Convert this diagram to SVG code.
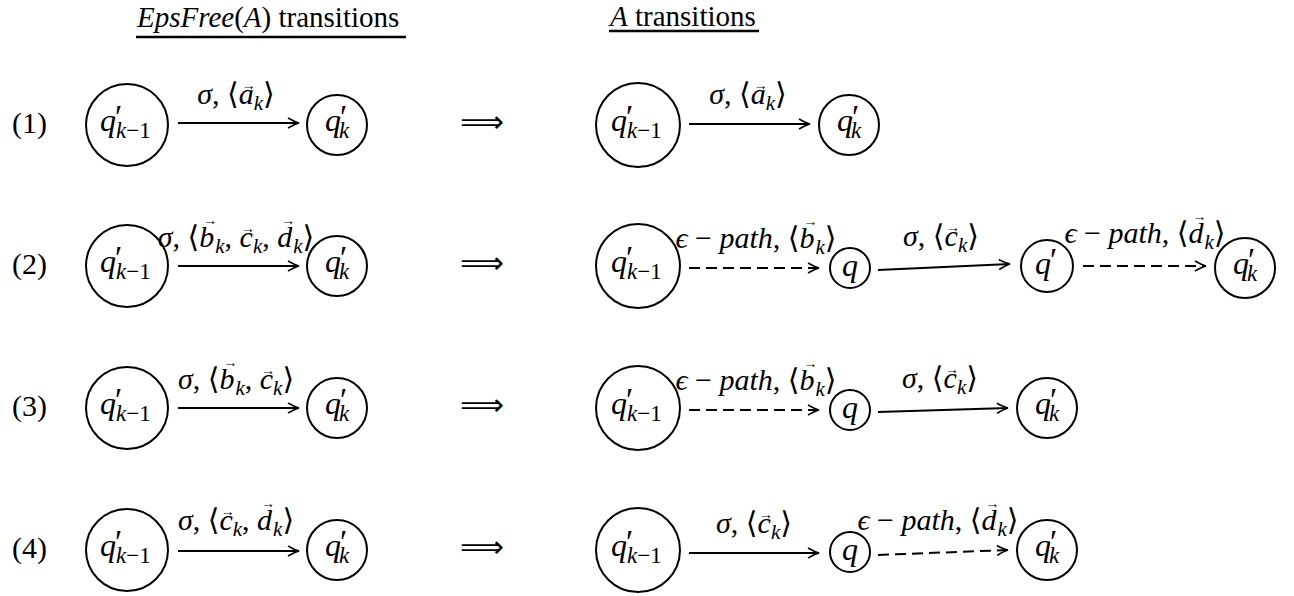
<svg xmlns="http://www.w3.org/2000/svg" width="1294" height="596" viewBox="0 0 1294 596">
<style>
text{font-family:"Liberation Serif","DejaVu Serif",serif;fill:#000}
.hd{font-size:29px}
.m{font-size:30px;font-style:italic}
.q{font-size:32px;font-style:italic}
.n{font-size:30px}
.up{font-style:normal}
.it{font-style:italic}
.sub{font-size:21px}
.qs{font-size:23px}
.pr{font-size:33px;font-style:normal}
.vec{font-size:14px;font-style:normal}
.arr{font-family:"DejaVu Sans",sans-serif;font-size:30px}
.node circle{fill:none;stroke:#000;stroke-width:2}
.edge{fill:none;stroke:#000;stroke-width:2;marker-end:url(#ah)}
.dash{stroke-dasharray:11 6}
.ul{stroke:#000;stroke-width:2.5}
</style>
<defs>
<marker id="ah" viewBox="-12 -6 14 12" refX="0" refY="0" markerWidth="14" markerHeight="12" markerUnits="userSpaceOnUse" orient="auto">
<path d="M-11,-5 Q-4,-1 0,0 Q-4,1 -11,5" fill="none" stroke="#000" stroke-width="1.7"/>
</marker>
</defs>
<rect width="1294" height="596" fill="#fff"/>

<!-- column headings -->
<g id="headings">
<text class="hd" x="137" y="27"><tspan class="it">EpsFree</tspan>(<tspan class="it">A</tspan>) transitions</text>
<line class="ul" x1="136" y1="37" x2="406" y2="37"/>
<text class="hd" x="610" y="26"><tspan class="it">A</tspan> transitions</text>
<line class="ul" x1="609" y1="31" x2="759" y2="31"/>
</g>

<!-- row numbers and implication arrows -->
<g id="rownums">
<text class="n" x="12" y="133">(1)</text>
<text class="n" x="12" y="274">(2)</text>
<text class="n" x="12" y="416">(3)</text>
<text class="n" x="12" y="558">(4)</text>
<text class="arr" x="460" y="132" textLength="44" lengthAdjust="spacingAndGlyphs">⟹</text>
<text class="arr" x="460" y="273" textLength="44" lengthAdjust="spacingAndGlyphs">⟹</text>
<text class="arr" x="460" y="415" textLength="44" lengthAdjust="spacingAndGlyphs">⟹</text>
<text class="arr" x="460" y="557" textLength="44" lengthAdjust="spacingAndGlyphs">⟹</text>
</g>

<!-- row 1 -->
<g id="L1-src" class="node"><circle cx="127" cy="125" r="41"/>
<text class="q"><tspan x="100" y="131">q</tspan><tspan class="pr" x="115" y="128">′</tspan><tspan class="qs" x="116" y="138">k<tspan class="up">−1</tspan></tspan></text></g>
<g id="L1-dst" class="node"><circle cx="337" cy="125" r="30"/>
<text class="q"><tspan x="325" y="131">q</tspan><tspan class="pr" x="340" y="128">′</tspan><tspan class="qs" x="339" y="138">k</tspan></text></g>
<g id="R1-src" class="node"><circle cx="638" cy="125" r="42"/>
<text class="q"><tspan x="611" y="131">q</tspan><tspan class="pr" x="626" y="128">′</tspan><tspan class="qs" x="627" y="138">k<tspan class="up">−1</tspan></tspan></text></g>
<g id="R1-dst" class="node"><circle cx="849" cy="125" r="30"/>
<text class="q"><tspan x="837" y="131">q</tspan><tspan class="pr" x="852" y="128">′</tspan><tspan class="qs" x="851" y="138">k</tspan></text></g>

<!-- row 2 -->
<g id="L2-src" class="node"><circle cx="127" cy="266" r="41"/>
<text class="q"><tspan x="100" y="272">q</tspan><tspan class="pr" x="115" y="269">′</tspan><tspan class="qs" x="116" y="279">k<tspan class="up">−1</tspan></tspan></text></g>
<g id="L2-dst" class="node"><circle cx="337" cy="266" r="30"/>
<text class="q"><tspan x="325" y="272">q</tspan><tspan class="pr" x="340" y="269">′</tspan><tspan class="qs" x="339" y="279">k</tspan></text></g>
<g id="R2-src" class="node"><circle cx="638" cy="266" r="42"/>
<text class="q"><tspan x="611" y="272">q</tspan><tspan class="pr" x="626" y="269">′</tspan><tspan class="qs" x="627" y="279">k<tspan class="up">−1</tspan></tspan></text></g>
<g id="R2-q" class="node"><circle cx="850" cy="268" r="20"/>
<text class="q" x="850" y="276" text-anchor="middle">q</text></g>
<g id="R2-qp" class="node"><circle cx="1047" cy="266" r="26"/>
<text class="q"><tspan x="1035" y="274">q</tspan><tspan class="pr" x="1050" y="271">′</tspan></text></g>
<g id="R2-dst" class="node"><circle cx="1245" cy="268" r="30"/>
<text class="q"><tspan x="1233" y="274">q</tspan><tspan class="pr" x="1248" y="271">′</tspan><tspan class="qs" x="1247" y="281">k</tspan></text></g>

<!-- row 3 -->
<g id="L3-src" class="node"><circle cx="127" cy="408" r="41"/>
<text class="q"><tspan x="100" y="414">q</tspan><tspan class="pr" x="115" y="411">′</tspan><tspan class="qs" x="116" y="421">k<tspan class="up">−1</tspan></tspan></text></g>
<g id="L3-dst" class="node"><circle cx="337" cy="408" r="30"/>
<text class="q"><tspan x="325" y="414">q</tspan><tspan class="pr" x="340" y="411">′</tspan><tspan class="qs" x="339" y="421">k</tspan></text></g>
<g id="R3-src" class="node"><circle cx="638" cy="408" r="42"/>
<text class="q"><tspan x="611" y="414">q</tspan><tspan class="pr" x="626" y="411">′</tspan><tspan class="qs" x="627" y="421">k<tspan class="up">−1</tspan></tspan></text></g>
<g id="R3-q" class="node"><circle cx="850" cy="410" r="20"/>
<text class="q" x="850" y="418" text-anchor="middle">q</text></g>
<g id="R3-dst" class="node"><circle cx="1047" cy="408" r="30"/>
<text class="q"><tspan x="1035" y="414">q</tspan><tspan class="pr" x="1050" y="411">′</tspan><tspan class="qs" x="1049" y="421">k</tspan></text></g>

<!-- row 4 -->
<g id="L4-src" class="node"><circle cx="127" cy="550" r="41"/>
<text class="q"><tspan x="100" y="556">q</tspan><tspan class="pr" x="115" y="553">′</tspan><tspan class="qs" x="116" y="563">k<tspan class="up">−1</tspan></tspan></text></g>
<g id="L4-dst" class="node"><circle cx="337" cy="550" r="30"/>
<text class="q"><tspan x="325" y="556">q</tspan><tspan class="pr" x="340" y="553">′</tspan><tspan class="qs" x="339" y="563">k</tspan></text></g>
<g id="R4-src" class="node"><circle cx="638" cy="550" r="42"/>
<text class="q"><tspan x="611" y="556">q</tspan><tspan class="pr" x="626" y="553">′</tspan><tspan class="qs" x="627" y="563">k<tspan class="up">−1</tspan></tspan></text></g>
<g id="R4-q" class="node"><circle cx="850" cy="552" r="20"/>
<text class="q" x="850" y="560" text-anchor="middle">q</text></g>
<g id="R4-dst" class="node"><circle cx="1047" cy="550" r="30"/>
<text class="q"><tspan x="1035" y="556">q</tspan><tspan class="pr" x="1050" y="553">′</tspan><tspan class="qs" x="1049" y="563">k</tspan></text></g>

<!-- transitions and their labels -->
<g id="connectors">
<line class="edge" x1="178" y1="123" x2="299" y2="123"/>
<text class="m" x="236" y="104" text-anchor="middle">σ<tspan class="up">, ⟨</tspan>a<tspan class="vec" dx="-12" dy="-14">→</tspan><tspan class="sub" dx="-2" dy="20">k</tspan><tspan class="up" dy="-6">⟩</tspan></text>
<line class="edge" x1="689" y1="124" x2="810" y2="124"/>
<text class="m" x="748" y="104" text-anchor="middle">σ<tspan class="up">, ⟨</tspan>a<tspan class="vec" dx="-12" dy="-14">→</tspan><tspan class="sub" dx="-2" dy="20">k</tspan><tspan class="up" dy="-6">⟩</tspan></text>

<line class="edge" x1="178" y1="266" x2="299" y2="266"/>
<text class="m" x="236" y="247" text-anchor="middle">σ<tspan class="up">, ⟨</tspan>b<tspan class="vec" dx="-11" dy="-22">→</tspan><tspan class="sub" dx="-2" dy="28">k</tspan><tspan class="up" dy="-6">, </tspan>c<tspan class="vec" dx="-12" dy="-14">→</tspan><tspan class="sub" dx="-2" dy="20">k</tspan><tspan class="up" dy="-6">, </tspan>d<tspan class="vec" dx="-11" dy="-22">→</tspan><tspan class="sub" dx="-2" dy="28">k</tspan><tspan class="up" dy="-6">⟩</tspan></text>
<line class="edge dash" x1="689" y1="268" x2="819" y2="268"/>
<text class="m" x="756" y="248" text-anchor="middle">ϵ<tspan class="up"> − </tspan>path<tspan class="up">, ⟨</tspan>b<tspan class="vec" dx="-11" dy="-22">→</tspan><tspan class="sub" dx="-2" dy="28">k</tspan><tspan class="up" dy="-6">⟩</tspan></text>
<line class="edge" x1="878" y1="270" x2="1010" y2="264"/>
<text class="m" x="941" y="246" text-anchor="middle">σ<tspan class="up">, ⟨</tspan>c<tspan class="vec" dx="-12" dy="-14">→</tspan><tspan class="sub" dx="-2" dy="20">k</tspan><tspan class="up" dy="-6">⟩</tspan></text>
<line class="edge dash" x1="1083" y1="266" x2="1206" y2="266"/>
<text class="m" x="1145" y="243" text-anchor="middle">ϵ<tspan class="up"> − </tspan>path<tspan class="up">, ⟨</tspan>d<tspan class="vec" dx="-11" dy="-22">→</tspan><tspan class="sub" dx="-2" dy="28">k</tspan><tspan class="up" dy="-6">⟩</tspan></text>

<line class="edge" x1="178" y1="408" x2="299" y2="408"/>
<text class="m" x="236" y="389" text-anchor="middle">σ<tspan class="up">, ⟨</tspan>b<tspan class="vec" dx="-11" dy="-22">→</tspan><tspan class="sub" dx="-2" dy="28">k</tspan><tspan class="up" dy="-6">, </tspan>c<tspan class="vec" dx="-12" dy="-14">→</tspan><tspan class="sub" dx="-2" dy="20">k</tspan><tspan class="up" dy="-6">⟩</tspan></text>
<line class="edge dash" x1="689" y1="410" x2="819" y2="410"/>
<text class="m" x="756" y="390" text-anchor="middle">ϵ<tspan class="up"> − </tspan>path<tspan class="up">, ⟨</tspan>b<tspan class="vec" dx="-11" dy="-22">→</tspan><tspan class="sub" dx="-2" dy="28">k</tspan><tspan class="up" dy="-6">⟩</tspan></text>
<line class="edge" x1="878" y1="412" x2="1008" y2="408"/>
<text class="m" x="940" y="388" text-anchor="middle">σ<tspan class="up">, ⟨</tspan>c<tspan class="vec" dx="-12" dy="-14">→</tspan><tspan class="sub" dx="-2" dy="20">k</tspan><tspan class="up" dy="-6">⟩</tspan></text>

<line class="edge" x1="178" y1="551" x2="299" y2="551"/>
<text class="m" x="236" y="530" text-anchor="middle">σ<tspan class="up">, ⟨</tspan>c<tspan class="vec" dx="-12" dy="-14">→</tspan><tspan class="sub" dx="-2" dy="20">k</tspan><tspan class="up" dy="-6">, </tspan>d<tspan class="vec" dx="-11" dy="-22">→</tspan><tspan class="sub" dx="-2" dy="28">k</tspan><tspan class="up" dy="-6">⟩</tspan></text>
<line class="edge" x1="689" y1="553" x2="819" y2="553"/>
<text class="m" x="754" y="533" text-anchor="middle">σ<tspan class="up">, ⟨</tspan>c<tspan class="vec" dx="-12" dy="-14">→</tspan><tspan class="sub" dx="-2" dy="20">k</tspan><tspan class="up" dy="-6">⟩</tspan></text>
<line class="edge dash" x1="878" y1="555" x2="1008" y2="550"/>
<text class="m" x="938" y="530" text-anchor="middle">ϵ<tspan class="up"> − </tspan>path<tspan class="up">, ⟨</tspan>d<tspan class="vec" dx="-11" dy="-22">→</tspan><tspan class="sub" dx="-2" dy="28">k</tspan><tspan class="up" dy="-6">⟩</tspan></text>
</g>
</svg>
